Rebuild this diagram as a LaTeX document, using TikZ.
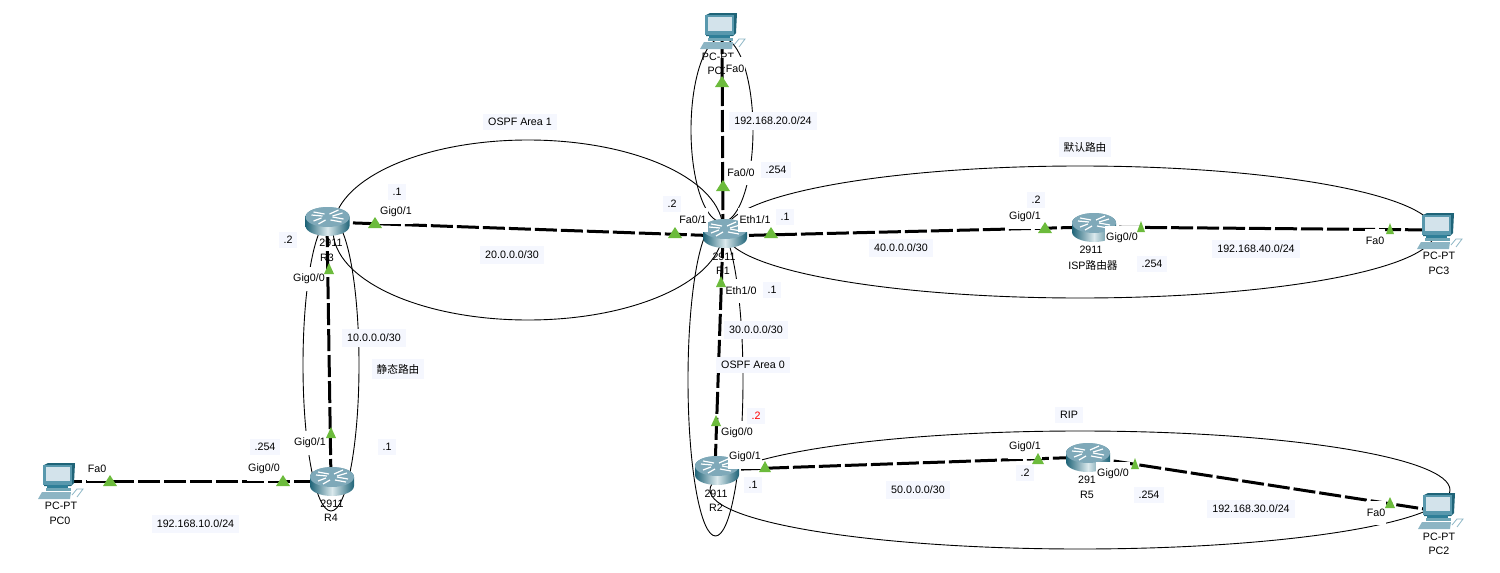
\documentclass[tikz,border=0pt]{standalone}
\usepackage{fontspec}
\setmainfont{Liberation Sans}
\newfontfamily\cjk{Noto Sans CJK SC}
\definecolor{linkgreen}{HTML}{6CBB3C}
\definecolor{notebg}{HTML}{F5F7FE}
\definecolor{teal}{HTML}{2F7F98}
\definecolor{tealdark}{HTML}{1F6478}
\definecolor{teallight}{HTML}{6FA6B6}
\definecolor{screen}{HTML}{D3E3EB}
\definecolor{keyb}{HTML}{8CB5C4}
\definecolor{rtop}{HTML}{7FA9B9}
\tikzset{
  link/.style={line width=1.5pt,dash pattern=on 11pt off 2pt,black},
  loopline/.style={line width=0.45pt,black},
  note/.style={fill=notebg,inner xsep=2.5pt,inner ysep=2.3pt,font=\fontsize{5.35pt}{6pt}\selectfont,text=black},
  port/.style={fill=white,inner xsep=0.6pt,minimum height=12pt,inner ysep=0pt,font=\fontsize{5.35pt}{6pt}\selectfont,text=black},
  dev/.style={inner sep=0pt,font=\fontsize{5.35pt}{6pt}\selectfont,text=black},
  arrowmark/.style={white,line width=0.6pt},
}
\newcommand\routericon[2]{%
  \begin{scope}[shift={(#1,#2)}]
    \path[left color=tealdark,right color=tealdark,middle color=white!75!teallight]
      (-22,0) -- (-22,9) arc[start angle=180,end angle=360,x radius=11pt,y radius=5pt] -- (22,0)
      arc[start angle=0,end angle=180,x radius=11pt,y radius=5pt] -- cycle;
    \fill[rtop] (0,0) ellipse[x radius=11pt,y radius=5pt];
    \draw[arrowmark] (-16,-2) -- (-5,-1);
    \draw[arrowmark] (-14,-5) -- (-3,-3);
    \draw[arrowmark] (16,2) -- (5,0);
    \draw[arrowmark] (14,5) -- (3,3);
    \draw[arrowmark] (2,-3) -- (11,-7);
    \draw[arrowmark] (5,-1) -- (15,-4);
    \draw[arrowmark] (-2,3) -- (-9,7);
    \draw[arrowmark] (-6,1) -- (-14,4);
  \end{scope}}
\newcommand\pcicon[2]{%
  \begin{scope}[shift={(#1,#2)}]
    \fill[tealdark] (1,2) -- (5,0) -- (32,0) -- (31,20) -- (28,23) -- (1,23) -- cycle;
    \fill[teal!80!white] (0,2) rectangle (29,22);
    \fill[screen] (3,4) rectangle (27,18);
    \fill[teal] (4,22) rectangle (25,25);
    \fill[teallight] (3,25) rectangle (28,28);
    \fill[keyb] (-5,36) -- (-1,29) -- (28,29) -- (27,36) -- cycle;
    \draw[keyb,line width=0.4pt] (29,32) -- (34,26) -- (40,26) -- (34,34);
  \end{scope}}
\newcommand\linktri[3]{\fill[linkgreen] (#1,#2-6) -- (#1+#3,#2+5) -- (#1-#3,#2+5) -- cycle;}
\begin{document}
\begin{tikzpicture}[x=0.5pt,y=-0.5pt]
\useasboundingbox (0,0) rectangle (1500,573);
% device anchors
\coordinate (PC0) at (60,481);
\coordinate (PC1) at (722,30);
\coordinate (PC2) at (1437,511);
\coordinate (PC3) at (1437,230);
\coordinate (R1) at (723,236);
\coordinate (R2) at (715,470);
\coordinate (R3) at (327,222);
\coordinate (R4) at (331,481);
\coordinate (R5) at (1088,457);
\coordinate (ISP) at (1093,227);
% device labels
\node[dev] (lpc0a) at (61,506) {PC-PT};
\node[dev] (lpc0b) at (60,521) {PC0};
\node[dev] (lr4a) at (332,504) {2911};
\node[dev] (lr4b) at (331,518) {R4};
\node[dev] (lr3a) at (331,243) {2911};
\node[dev] (lr3b) at (327,258) {R3};
\node[dev] (lr1a) at (724,257) {2911};
\node[dev] (lr1b) at (723,271) {R1};
\node[dev] (lispa) at (1091,250) {2911};
\node[dev] (lispb) at (1093,265) {ISP{\cjk 路由器}};
\node[dev] (lr2a) at (716,494) {2911};
\node[dev] (lr2b) at (716,508) {R2};
\node[dev] (lr5a) at (1087,480) {291};
\node[dev] (lr5b) at (1087,495) {R5};
\node[dev] (lpc3a) at (1439,256) {PC-PT};
\node[dev] (lpc3b) at (1439,271) {PC3};
\node[dev] (lpc2a) at (1439,537) {PC-PT};
\node[dev] (lpc2b) at (1439,551) {PC2};
\node[dev] (lpc1a) at (718,57) {PC-PT};
\node[dev] (lpc1b) at (718,71) {PC1};
% area outlines
\draw[loopline] (528,230) ellipse[x radius=195,y radius=90];
\draw[loopline] (1080,232) ellipse[x radius=355,y radius=66];
\draw[loopline] (1080,490) ellipse[x radius=370,y radius=59];
\draw[loopline] (715.5,380) ellipse[x radius=27.5,y radius=156];
\draw[loopline] (722,130) ellipse[x radius=31,y radius=92];
\draw[loopline] (331,365) ellipse[x radius=28,y radius=146];
% links
\draw[link] (PC0) -- (R4);
\draw[link] (R4) -- (R3);
\draw[link] (R3) -- (R1);
\draw[link] (R1) -- (ISP);
\draw[link] (ISP) -- (PC3);
\draw[link] (R1) -- (PC1);
\draw[link] (R1) -- (R2);
\draw[link] (R2) -- (R5);
\draw[link] (R5) -- (PC2);
% icons
\pcicon{43}{463}
\pcicon{705}{13}
\pcicon{1422}{213}
\pcicon{1423}{493}
\routericon{327.5}{217}
\routericon{332}{477}
\routericon{725}{229}
\routericon{717}{466}
\routericon{1094}{223}
\routericon{1088}{453}
% port labels
\node[port] (p1) at (97,469) {Fa0};
\node[port] (p2) at (264,469) {Gig0/0};
\node[port] (p3) at (310,443) {Gig0/1};
\node[port] (p4) at (309,279) {Gig0/0};
\node[port] (p5) at (396,212) {Gig0/1};
\node[port] (p6) at (693,220) {Fa0/1};
\node[port] (p7) at (755,220) {Eth1/1};
\node[port] (p8) at (741,173) {Fa0/0};
\node[port] (p9) at (735,69) {Fa0};
\node[port] (p10) at (741,291) {Eth1/0};
\node[port] (p11) at (737,433) {Gig0/0};
\node[port] (p12) at (745,457) {Gig0/1};
\node[port] (p13) at (1025,447) {Gig0/1};
\node[port] (p14) at (1113,474) {Gig0/0};
\node[port] (p15) at (1025,217) {Gig0/1};
\node[port] (p16) at (1122,238) {Gig0/0};
\node[port] (p17) at (1375,241) {Fa0};
\node[port] (p18) at (1376,513) {Fa0};
% link state marks
\linktri{110}{481}{7}
\linktri{283}{481}{7}
\linktri{331}{433}{5}
\linktri{329}{269}{5}
\linktri{375}{223}{7}
\linktri{675}{233}{7}
\linktri{771}{233}{7}
\linktri{1045}{228}{7}
\linktri{1141}{227}{4}
\linktri{1390}{229}{4}
\linktri{722}{82}{7}
\linktri{723}{186}{7}
\linktri{721}{282}{5}
\linktri{716}{421}{5}
\linktri{765}{467}{6}
\linktri{1038}{459}{6}
\linktri{1135}{464}{4}
\linktri{1390}{503}{5}
% notes
\node[note] (n1) at (520,122) {OSPF Area 1};
\node[note] (n2) at (512,255) {20.0.0.0/30};
\node[note] (n3) at (397,192) {.1};
\node[note] (n4) at (288,240) {.2};
\node[note] (n5) at (672,204) {.2};
\node[note] (n6) at (776,170) {.254};
\node[note] (n7) at (773,121) {192.168.20.0/24};
\node[note] (n8) at (785,217) {.1};
\node[note] (n9) at (772,290) {.1};
\node[note] (n10) at (756,330) {30.0.0.0/30};
\node[note] (n11) at (753,365) {OSPF Area 0};
\node[note,text=red] (n12) at (756,416) {.2};
\node[note] (n13) at (753,485) {.1};
\node[note] (n14) at (374,338) {10.0.0.0/30};
\node[note] (n15) at (398,369) {{\cjk 静态路由}};
\node[note] (n16) at (265,447) {.254};
\node[note] (n17) at (387,447) {.1};
\node[note] (n18) at (195.5,524) {192.168.10.0/24};
\node[note] (n19) at (1085,147) {{\cjk 默认路由}};
\node[note] (n20) at (901,248) {40.0.0.0/30};
\node[note] (n21) at (1036,200) {.2};
\node[note] (n22) at (1152,264) {.254};
\node[note] (n23) at (1256,249) {192.168.40.0/24};
\node[note] (n24) at (1069,415) {RIP};
\node[note] (n25) at (918,490) {50.0.0.0/30};
\node[note] (n26) at (1025,473) {.2};
\node[note] (n27) at (1149,495) {.254};
\node[note] (n28) at (1251,509) {192.168.30.0/24};
\end{tikzpicture}
\end{document}
